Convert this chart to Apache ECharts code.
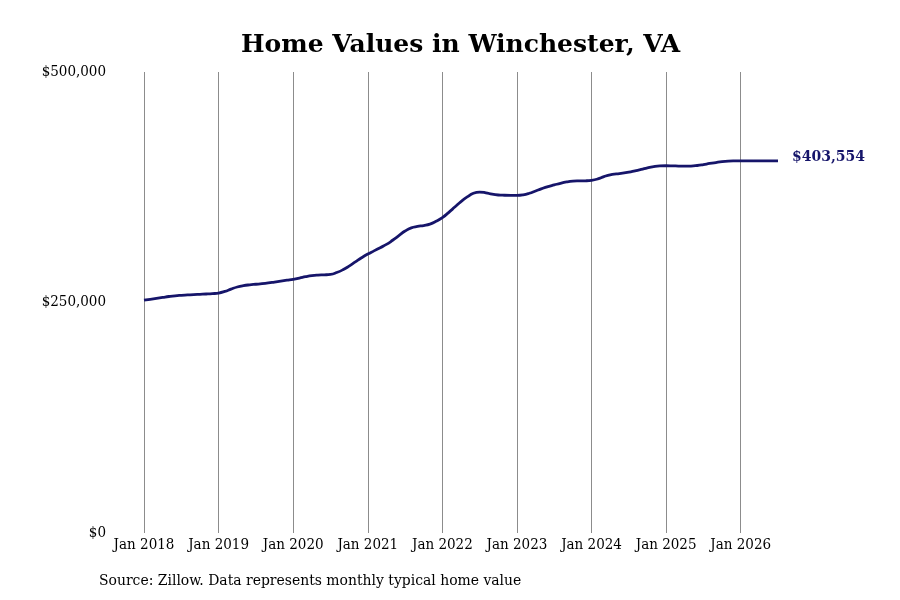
<!DOCTYPE html>
<html>
<head>
<meta charset="utf-8">
<script src="https://cdn.jsdelivr.net/npm/echarts@6/dist/echarts.min.js"></script>
<style>
  html, body { margin: 0; padding: 0; background: #fff; }
  #chart { width: 900px; height: 600px; }
</style>
</head>
<body>
<div id="chart"></div>
<script>
// monthly typical home value, Jan 2018 .. Jul 2026
const startYear = 2018;
const values = [
  252500, 253500, 254500, 255500, 256500, 257300, 257800, 258200, 258600, 258900, 259200, 259600,
  260200, 262000, 264500, 266800, 268300, 269200, 269800, 270400, 271200, 272200, 273200, 274200,
  275200, 276500, 278000, 279200, 279800, 280000, 280500, 282500, 285500, 289500, 294000, 298500,
  302500, 306000, 309500, 313000, 317500, 322500, 327500, 331000, 332500, 333500, 335000, 338000,
  342000, 347500, 353500, 359500, 364500, 368500, 369800, 369000, 367500, 366600, 366300, 366200,
  366200, 366800, 368500, 371000, 373500, 375700, 377500, 379300, 380700, 381600, 381900, 382000,
  382500, 384000, 386500, 388500, 389500, 390200, 391300, 392800, 394300, 396000, 397300, 398100,
  398300, 398200, 398000, 397900, 398000, 398600, 399600, 400800, 401800, 402700, 403300, 403600,
  403700, 403700, 403600, 403500, 403500, 403600, 403554
];
const monthNames = ['Jan', 'Feb', 'Mar', 'Apr', 'May', 'Jun', 'Jul', 'Aug', 'Sep', 'Oct', 'Nov', 'Dec'];
const months = values.map((v, i) => monthNames[i % 12] + ' ' + (startYear + Math.floor(i / 12)));
const yTicks = [0, 250000, 500000];

const serif = 'DejaVu Serif';
const serifCond = '"DejaVu Serif Condensed", "DejaVu Serif"';
const navy = '#16156a';

const chart = echarts.init(document.getElementById('chart'));

const money = v => '$' + Math.round(v).toLocaleString('en-US');
const isJan = idx => idx % 12 === 0;

chart.setOption({
  animation: false,
  title: {
    text: 'Home Values in Winchester, VA',
    left: 236,
    top: 28,
    textStyle: { fontFamily: serif, fontSize: 25, fontWeight: 'bold', color: '#000' }
  },
  graphic: [{
    type: 'text',
    left: 99,
    top: 573,
    style: {
      text: 'Source: Zillow. Data represents monthly typical home value',
      font: '15.5px ' + serifCond,
      fill: '#000'
    }
  }],
  grid: { left: 144, right: 122, top: 72, bottom: 67 },
  xAxis: {
    type: 'category',
    data: months,
    boundaryGap: false,
    axisLine: { show: false },
    axisTick: { show: false },
    axisLabel: {
      interval: isJan,
      margin: 5,
      fontFamily: serifCond,
      fontSize: 15,
      color: '#000'
    },
    splitLine: {
      show: true,
      interval: isJan,
      lineStyle: { color: '#8c8c8c', width: 1 }
    }
  },
  yAxis: {
    type: 'value',
    min: yTicks[0],
    max: yTicks[yTicks.length - 1],
    interval: yTicks[1] - yTicks[0],
    axisLine: { show: false },
    axisTick: { show: false },
    splitLine: { show: false },
    axisLabel: {
      margin: 38,
      formatter: money,
      fontFamily: serifCond,
      fontSize: 15,
      color: '#000'
    }
  },
  series: [{
    type: 'line',
    data: values,
    smooth: true,
    showSymbol: false,
    lineStyle: { color: navy, width: 2.8 },
    endLabel: {
      show: true,
      distance: 14,
      offset: [0, -4],
      formatter: p => money(p.value),
      fontFamily: serif,
      fontSize: 14,
      fontWeight: 'bold',
      color: navy
    }
  }]
});
</script>
</body>
</html>
